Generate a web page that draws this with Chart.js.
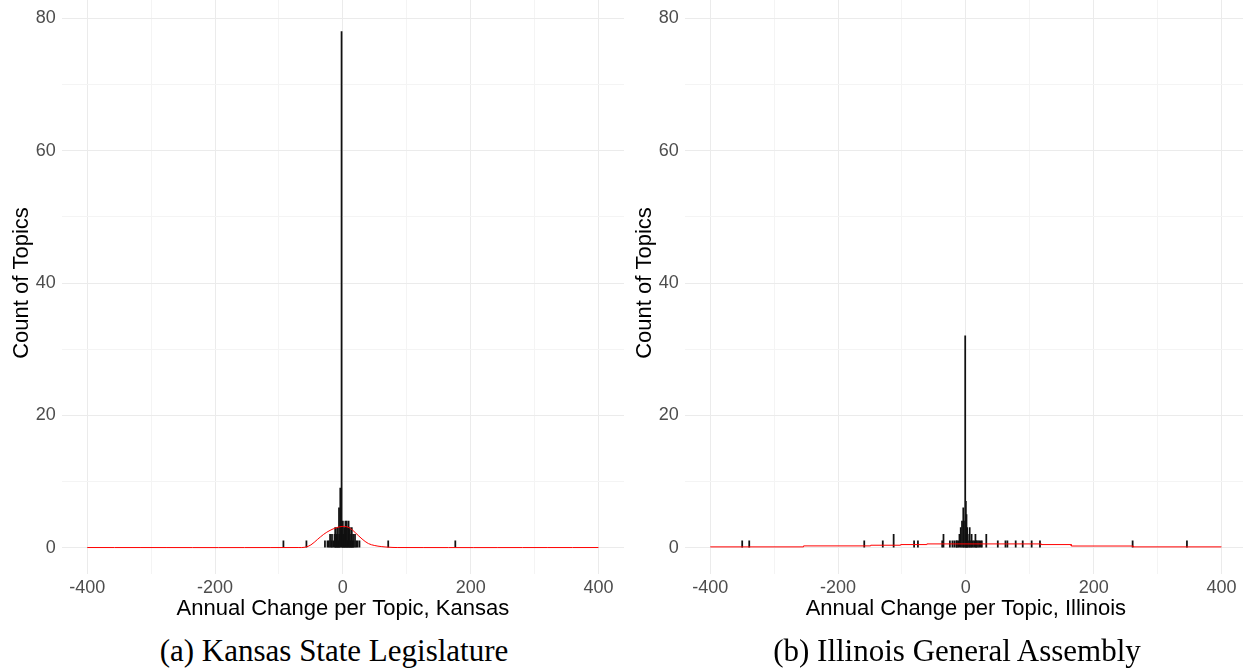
<!DOCTYPE html>
<html>
<head>
<meta charset="utf-8">
<title>Annual Change per Topic</title>
<script src="https://cdn.jsdelivr.net/npm/chart.js@4.4.1/dist/chart.umd.min.js"></script>
<style>
	html, body { margin: 0; padding: 0; background: #fff; overflow: hidden; width: 1243px; height: 670px; }
	.panel { position: absolute; top: 0; width: 624px; height: 670px; }
	.panel canvas { position: absolute; left: 0; top: -8px; }
	.caption {
		position: absolute; top: 636px; left: 0; width: 668px; text-align: center;
		font-family: "Liberation Serif", "DejaVu Serif", serif; font-size: 31px; line-height: 30px; color: #000;
	}
</style>
</head>
<body>
<div class="panel" style="left:0px">
	<canvas id="hist-kansas" width="624" height="633"></canvas>
	<div class="caption">(a) Kansas State Legislature</div>
</div>
<div class="panel" style="left:623px">
	<canvas id="hist-illinois" width="624" height="633"></canvas>
	<div class="caption">(b) Illinois General Assembly</div>
</div>
<script>
// Histogram bins: annual change per topic and how many topics fall in each
const kansasChange = [-93, -57, -28, -24, -22, -20, -18, -17, -15, -13, -12, -11, -10, -9, -8, -7, -6, -5, -4, -2,
	-1, 0, 1, 2, 3, 4, 5, 6, 7, 8, 9, 10, 11, 12, 13, 14, 15, 16, 17, 19, 21, 23, 26, 71, 176];
const kansasCount = [1, 1, 1, 1, 1, 2, 1, 2, 1, 2, 3, 1, 2, 3, 2, 1, 6, 2, 9, 78,
	3, 4, 2, 3, 1, 4, 2, 4, 1, 3, 4, 2, 3, 1, 2, 3, 1, 2, 1, 2, 1, 1, 1, 1, 1];

const illinoisChange = [-350, -339, -159, -130, -113, -81, -75, -37, -35, -25, -21, -18, -15, -14, -12, -10, -8, -6, -4, -3,
	-1, 0, 1, 2, 3, 5, 6, 8, 9, 11, 13, 15, 16, 17, 19, 21, 23, 25, 32, 50, 62, 65, 78, 89, 103, 116, 261, 346];
const illinoisCount = [1, 1, 1, 1, 2, 1, 1, 1, 2, 1, 1, 1, 1, 1, 1, 2, 3, 4, 6, 4,
	32, 7, 5, 3, 2, 1, 3, 1, 2, 1, 1, 2, 1, 1, 1, 1, 1, 1, 2, 1, 1, 1, 1, 1, 1, 1, 1, 1];

// Red density overlay (scaled to counts)
const kansasDensityX = [-400, -70, -59, -50, -40, -30, -20, -10, 0, 10, 20, 30, 40, 50, 60, 72, 85, 400];
const kansasDensityY = [0, 0, 0.05, 0.4, 1.2, 2.0, 2.6, 3.0, 3.2, 3.0, 2.2, 1.3, 0.6, 0.3, 0.15, 0.05, 0, 0];

const illinoisDensityX = [-400, -254, -254, -149, -149, -102, -102, -61, -61, 118, 118, 165, 165, 262, 262, 400];
const illinoisDensityY = [0.1, 0.1, 0.25, 0.25, 0.35, 0.35, 0.45, 0.45, 0.55, 0.55, 0.45, 0.45, 0.23, 0.23, 0.1, 0.1];

// Axis ticks (majors get labels, minors only a grid line)
const xTicks = [-400, -300, -200, -100, 0, 100, 200, 300, 400];
const yTicks = [0, 10, 20, 30, 40, 50, 60, 70, 80];

Chart.defaults.font.family = "'Liberation Sans', Arial, sans-serif";

/**
 * Build one histogram panel with its density line
 */
function drawPanel(canvasId, changes, counts, densX, densY, xTitle, tension) {
	const el = document.getElementById(canvasId);
	if (!el) return;

	const bars = changes.map((x, i) => ({ x: x, y: counts[i] }));
	const density = densX.map((x, i) => ({ x: x, y: densY[i] }));

	const gridColor = (major) => (ctx) => {
		if (!ctx.tick) return "#ebebeb";
		return ctx.tick.value % major === 0 ? "#ebebeb" : "#f4f4f4";
	};

	return new Chart(el, {
		type: "bar",
		data: {
			datasets: [
				{
					type: "line",
					data: density,
					borderColor: "#ff0000",
					borderWidth: 1,
					pointRadius: 0,
					tension: tension,
					order: 0,
				},
				{
					data: bars,
					backgroundColor: "#111111",
					borderWidth: 0,
					barThickness: 1.1,
					order: 1,
				},
			],
		},
		options: {
			responsive: false,
			animation: false,
			devicePixelRatio: 1,
			layout: { padding: 0 },
			plugins: { legend: { display: false }, tooltip: { enabled: false } },
			scales: {
				x: {
					type: "linear",
					min: -440,
					max: 440,
					offset: false,
					afterBuildTicks: (scale) => { scale.ticks = xTicks.map((v) => ({ value: v })); },
					afterFit: (scale) => {
						scale.height = 51;
						scale.paddingLeft = 0;
						scale.paddingRight = 0;
					},
					ticks: {
						autoSkip: false,
						maxRotation: 0,
						padding: 3,
						color: "#4d4d4d",
						font: { size: 18 },
						callback: (v) => (v % 200 === 0 ? String(v) : ""),
					},
					grid: { color: gridColor(200), drawTicks: false, offset: false },
					border: { display: false },
					title: {
						display: true,
						text: xTitle,
						color: "#000",
						font: { size: 22 },
						padding: { top: 0, bottom: 3 },
					},
				},
				y: {
					min: -4,
					max: 84,
					afterBuildTicks: (scale) => { scale.ticks = yTicks.map((v) => ({ value: v })); },
					afterFit: (scale) => {
						scale.width = 61.7;
						scale.paddingTop = 0;
						scale.paddingBottom = 0;
					},
					ticks: {
						padding: 6,
						color: "#4d4d4d",
						font: { size: 18 },
						callback: (v) => (v % 20 === 0 ? String(v) : ""),
					},
					grid: { color: gridColor(20), drawTicks: false },
					border: { display: false },
					title: {
						display: true,
						text: "Count of Topics",
						color: "#000",
						font: { size: 22 },
						padding: { top: 9, bottom: 0 },
					},
				},
			},
		},
	});
}

drawPanel("hist-kansas", kansasChange, kansasCount, kansasDensityX, kansasDensityY,
	"Annual Change per Topic, Kansas", 0.35);
drawPanel("hist-illinois", illinoisChange, illinoisCount, illinoisDensityX, illinoisDensityY,
	"Annual Change per Topic, Illinois", 0);
</script>
</body>
</html>
